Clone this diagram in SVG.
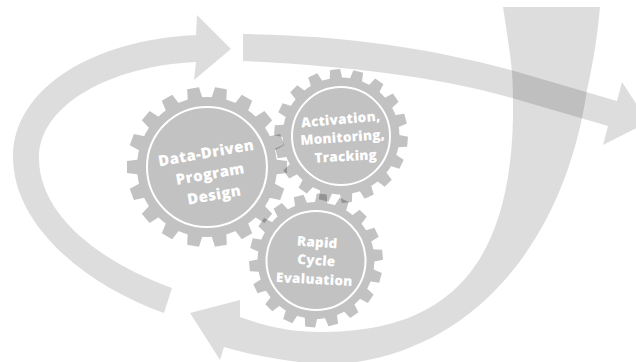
<svg xmlns="http://www.w3.org/2000/svg" width="636" height="362" viewBox="0 0 636 362">
<style>
.arrow{fill:#000;fill-opacity:.135}
.gear{opacity:.235}
.ring{fill:none;stroke:#fff;stroke-width:2}
text{font-family:"Open Sans","Liberation Sans",sans-serif;font-weight:800;fill:#fff;text-anchor:middle}
.big{font-size:15px;letter-spacing:.4px}
.small{font-size:13.5px;letter-spacing:.25px}
</style>
<defs>
<path id="tooth" d="M68,-7.6L80,-6L80,6L68,7.6Z"/>
<g id="cog">
<circle r="70"/>
<use href="#tooth"/><use href="#tooth" transform="rotate(20)"/><use href="#tooth" transform="rotate(40)"/>
<use href="#tooth" transform="rotate(60)"/><use href="#tooth" transform="rotate(80)"/><use href="#tooth" transform="rotate(100)"/>
<use href="#tooth" transform="rotate(120)"/><use href="#tooth" transform="rotate(140)"/><use href="#tooth" transform="rotate(160)"/>
<use href="#tooth" transform="rotate(180)"/><use href="#tooth" transform="rotate(200)"/><use href="#tooth" transform="rotate(220)"/>
<use href="#tooth" transform="rotate(240)"/><use href="#tooth" transform="rotate(260)"/><use href="#tooth" transform="rotate(280)"/>
<use href="#tooth" transform="rotate(300)"/><use href="#tooth" transform="rotate(320)"/><use href="#tooth" transform="rotate(340)"/>
</g>
</defs>
<rect width="636" height="362" fill="#fff"/>
<g id="connectors">
<path class="arrow" d="M172,288C100,262 39,215 39,158C39,105 110,66 196,62L194,80L231,49L197,15L196,35C90,40 13,90 13,157C13,225 85,285 164,313Z"/>
<path class="arrow" d="M243,34C340,35 430,48 511,70L617,101L622,82L648,122L603,145L608,126L512,98C430,75 340,66 243,61Z"/>
<path class="arrow" d="M503,7L600,7C598,30 594,60 587,90C565,240 475,352 340,364L320,364C290,362 255,356 224,347L220,360L190,313L240,300L240,317C265,326 290,332 320,332C430,332 510,285 513,117C513,100 513,85 512,72C510,50 506,28 503,7Z"/>
</g>
<g id="gear-data-driven">
<use class="gear" href="#cog" transform="translate(207 167)"/>
<circle class="ring" cx="207" cy="167" r="60"/>
<text class="big" transform="translate(207 158) rotate(-10)">Data-Driven</text>
<text class="big" transform="translate(211 179) rotate(-10)">Program</text>
<text class="big" transform="translate(215 200) rotate(-10)">Design</text>
</g>
<g id="gear-activation">
<use class="gear" href="#cog" transform="translate(341 136) rotate(5) scale(.835)"/>
<circle class="ring" cx="341" cy="136" r="49"/>
<text class="small" transform="translate(341 124) rotate(-5)">Activation,</text>
<text class="small" transform="translate(343 142) rotate(-4)">Monitoring,</text>
<text class="small" transform="translate(346 161) rotate(-3)">Tracking</text>
</g>
<g id="gear-rapid-cycle">
<use class="gear" href="#cog" transform="translate(316 260.5) rotate(-5) scale(.835)"/>
<circle class="ring" cx="316" cy="260.5" r="49.5"/>
<text class="small" transform="translate(317 247) rotate(4)">Rapid</text>
<text class="small" transform="translate(316 265) rotate(4)">Cycle</text>
<text class="small" transform="translate(314 284) rotate(3)">Evaluation</text>
</g>
</svg>
